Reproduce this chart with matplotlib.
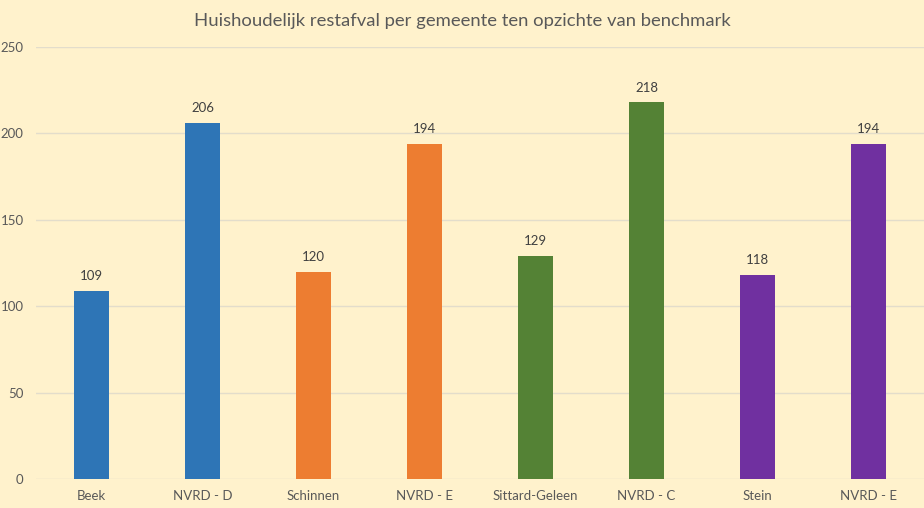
import matplotlib.pyplot as plt
import numpy as np

plt.rcParams.update({'font.family': ['Lato', 'DejaVu Sans'], 'font.size': 9})

gemeenten = ["Beek", "NVRD - D", "Schinnen", "NVRD - E", "Sittard-Geleen", "NVRD - C", "Stein", "NVRD - E"]
restafval = [109, 206, 120, 194, 129, 218, 118, 194]
kleuren = ['#2E75B6', '#2E75B6', '#ED7D31', '#ED7D31', '#548235', '#548235', '#7030A0', '#7030A0']

bg = '#FFF2CC'
txt = '#595959'

fig = plt.figure(figsize=(9.24, 5.08), dpi=100, facecolor=bg)
ax = fig.add_axes([0.039, 0.057, 0.961, 0.8505], facecolor=bg)

x = np.arange(len(gemeenten))
bars = ax.bar(x, restafval, width=0.315, color=kleuren, zorder=3)
for xi, v in zip(x, restafval):
    ax.text(xi, v + 5, str(v), ha='center', va='bottom', color='#404040', fontsize=9.5)

ax.set_xlim(-0.5, len(gemeenten) - 0.5)
ax.set_ylim(0, 250)
ax.set_yticks(range(0, 251, 50))
ax.set_xticks(x)
ax.set_xticklabels(gemeenten)
ax.grid(axis='y', color='#E3DDCB', linewidth=1, zorder=0)
for s in ax.spines.values():
    s.set_visible(False)
ax.tick_params(length=0, colors=txt, labelsize=9.5)
ax.tick_params(axis='y', pad=9)
ax.tick_params(axis='x', pad=8)

fig.suptitle("Huishoudelijk restafval per gemeente ten opzichte van benchmark",
             y=0.975, fontsize=13.3, color=txt)

plt.savefig('out.png', dpi=100, facecolor=bg)
